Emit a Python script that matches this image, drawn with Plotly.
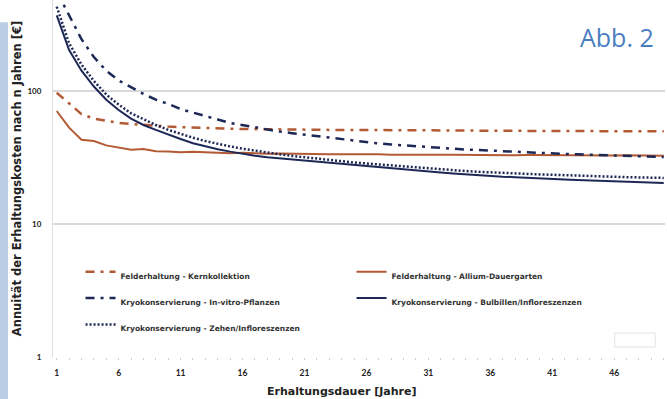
import plotly.graph_objects as go

years = list(range(1, 51))

kernkollektion = [97, 80, 67, 62, 59.5, 57.5, 56.5, 55.5, 54.6, 54, 53.5, 53, 52.6, 52.3, 52, 51.8, 51.6, 51.5, 51.4, 51.3,
                  51.2, 51.1, 51, 51, 50.9, 50.8, 50.8, 50.7, 50.6, 50.6, 50.5, 50.5, 50.4, 50.4, 50.3, 50.3, 50.2, 50.2, 50.1, 50.1,
                  50, 50, 50, 49.9, 49.9, 49.9, 49.8, 49.8, 49.8, 49.7]
allium = [70.7, 53, 43, 42, 39, 37.5, 36.2, 36.6, 35.3, 35, 34.6, 34.9, 34.5, 34.3, 34.1, 34.3, 34, 33.8, 33.9, 33.7,
          33.6, 33.7, 33.5, 33.4, 33.5, 33.3, 33.4, 33.2, 33.3, 33.2, 33.1, 33.2, 33.1, 33, 33.1, 33, 33, 32.9, 33, 32.9,
          32.9, 32.8, 32.9, 32.8, 32.8, 32.7, 32.8, 32.7, 32.7, 32.6]
invitro = [560, 366, 245, 180, 142, 120, 106, 95, 86, 80, 73, 68.5, 64.5, 61, 57.5, 55.4, 53, 51, 49.5, 48.2,
           47, 45.5, 44.4, 43.2, 42, 41, 40.3, 39.6, 39, 38.2, 37.6, 37, 36.6, 36.3, 36, 35.6, 35.2, 34.9, 34.5, 34.2,
           33.9, 33.6, 33.4, 33.2, 33, 32.7, 32.5, 32.3, 32.1, 31.9]
bulbillen = [370, 203, 142, 108, 86, 72, 62, 55.5, 51, 47, 43.5, 40.5, 38.3, 36.5, 35, 33.6, 32.6, 31.8, 31.2, 30.5,
             29.9, 29.3, 28.7, 28.1, 27.6, 27.1, 26.6, 26.1, 25.6, 25.2, 24.8, 24.4, 24.0, 23.6, 23.2, 22.9, 22.7, 22.5, 22.2, 22.0,
             21.8, 21.6, 21.4, 21.2, 21.0, 20.8, 20.7, 20.6, 20.4, 20.3]
zehen = [430, 228, 158, 119, 94, 79, 68, 61, 55.5, 51, 47.5, 44.5, 42, 40, 38.3, 36.8, 35.5, 34.4, 33.4, 32.5,
         31.7, 31, 30.3, 29.6, 29, 28.5, 28, 27.5, 27, 26.5, 26.1, 25.7, 25.3, 25, 24.7, 24.4, 24.2, 24, 23.8, 23.6,
         23.4, 23.2, 23.0, 22.9, 22.7, 22.6, 22.5, 22.4, 22.3, 22.2]

names = ["Felderhaltung - Kernkollektion", "Felderhaltung - Allium-Dauergarten",
         "Kryokonservierung - In-vitro-Pflanzen", "Kryokonservierung - Bulbillen/Infloreszenzen",
         "Kryokonservierung - Zehen/Infloreszenzen"]
x_ticks = [1, 6, 11, 16, 21, 26, 31, 36, 41, 46]
y_ticks = [1, 10, 100]

BROWN = "#b35a34"
NAVY = "#1d2856"
DASHDOT = "9px,6px,3px,6px"
BOLDFONT = "DejaVu Sans, sans-serif"

series = [
    (kernkollektion, BROWN, DASHDOT, 2.5),
    (allium, BROWN, "solid", 2),
    (invitro, NAVY, DASHDOT, 2.5),
    (bulbillen, NAVY, "solid", 2),
    (zehen, NAVY, "2px,2px", 2.5),
]

fig = go.Figure()
for (vals, col, dash, w), nm in zip(series, names):
    fig.add_trace(go.Scatter(
        x=years, y=vals, mode="lines", line=dict(color=col, dash=dash, width=w),
        name="<span style='font-size:7.5px'><b>" + nm + "</b></span>"))

fig.update_layout(
    width=667, height=399,
    margin=dict(l=53, r=2, t=0, b=42, autoexpand=False),
    paper_bgcolor="white", plot_bgcolor="white",
    font=dict(family="Lato, DejaVu Sans, sans-serif", color="#2a2a2a"),
    legend=dict(orientation="h", x=0.045, y=0.29, xanchor="left", yanchor="top",
                entrywidth=226, entrywidthmode="pixels", traceorder="normal",
                font=dict(size=18, color="#333333", family=BOLDFONT), bgcolor="rgba(0,0,0,0)"),
    xaxis=dict(range=[0.7, 50.1], tickmode="array", tickvals=x_ticks,
               ticktext=["<b>%d</b>" % v for v in x_ticks], automargin=False,
               tickfont=dict(size=8.5, color="#222"), showgrid=False, zeroline=False,
               showline=False, ticks="", ticklabelstandoff=9,
               minor=dict(ticks="outside", tickvals=years, ticklen=2, tickcolor="#cccccc")),
    yaxis=dict(type="log", range=[0, 2.684], tickmode="array", tickvals=y_ticks,
               ticktext=["<b>%d</b>" % v for v in y_ticks], automargin=False,
               tickfont=dict(size=8, color="#222"), showgrid=True, gridcolor="#d9d9d9", gridwidth=1.5,
               showline=True, linecolor="#dddddd", linewidth=1, zeroline=False, ticks="",
               ticklabelstandoff=9,
               title=dict(text="<b>Annuität der Erhaltungskosten nach n Jahren [€]</b>",
                          font=dict(size=11.5, color="#222", family=BOLDFONT), standoff=3)),
    shapes=[
        dict(type="rect", xref="paper", yref="paper", x0=-0.0866, x1=-0.0735, y0=-0.1176, y1=0.938,
             fillcolor="#b9cde5", line=dict(width=0), layer="above"),
        dict(type="rect", xref="paper", yref="paper", x0=0.918, x1=0.984, y0=0.028, y1=0.067,
             fillcolor="white", line=dict(width=1, color="#e3e3e3")),
    ],
    annotations=[
        dict(text="Abb. 2", xref="paper", yref="paper", x=0.922, y=0.896,
             xanchor="center", yanchor="middle", showarrow=False,
             font=dict(family="Open Sans, sans-serif", size=25, color="#4a7ebf")),
        dict(text="<b>Erhaltungsdauer [Jahre]</b>", xref="paper", yref="paper", x=0.472, y=-0.098,
             xanchor="center", yanchor="middle", showarrow=False,
             font=dict(size=11, color="#222", family=BOLDFONT)),
    ],
)

fig.write_html("out.html", config={"displayModeBar": False},
               post_script="document.body.style.margin='0px';")
